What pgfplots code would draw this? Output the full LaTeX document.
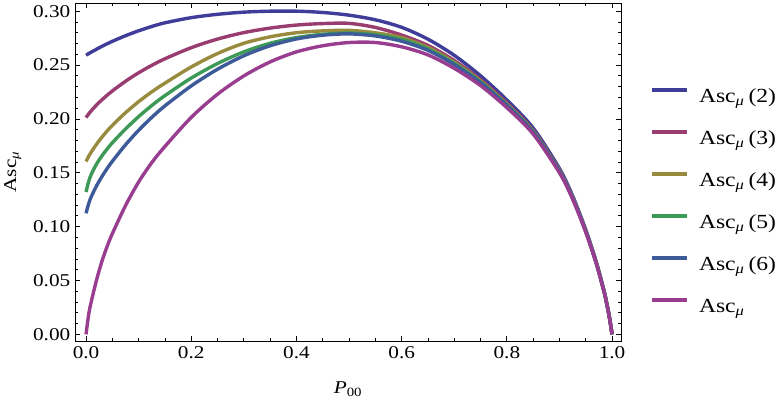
\documentclass[border=0pt]{standalone}
\usepackage{fontspec}
\setmainfont[FakeStretch=1.18]{Liberation Serif}
\usepackage{pgfplots}
\usepackage{pgfplotstable}
\pgfplotsset{compat=1.18}

% Mathematica default plot colours
\definecolor{cA}{rgb}{0.2472,0.24,0.6}
\definecolor{cB}{rgb}{0.6,0.24,0.4429}
\definecolor{cC}{rgb}{0.6,0.547,0.24}
\definecolor{cD}{rgb}{0.24,0.6,0.3369}
\definecolor{cE}{rgb}{0.24,0.3532,0.6}
\definecolor{cF}{rgb}{0.6,0.24,0.5633}

\pgfplotstableread{
P      a2      a3      a4      a5      a6      a
0      0.2592  0.2013  0.1605  0.1322  0.1124  0
0.005  0.2607  0.2047  0.1653  0.1420  0.1214  0.0185
0.01   0.2621  0.2077  0.1694  0.1487  0.1279  0.0305
0.02   0.2648  0.2130  0.1766  0.1582  0.1379  0.0505
0.03   0.2674  0.2177  0.1830  0.1656  0.1464  0.0675
0.04   0.2698  0.2220  0.1888  0.1721  0.1539  0.0815
0.05   0.2721  0.2260  0.1941  0.1779  0.1607  0.0935
0.075  0.2773  0.2350  0.2058  0.1907  0.1760  0.1195
0.1    0.2819  0.2429  0.2161  0.2022  0.1895  0.1415
0.125  0.2859  0.2498  0.2252  0.2125  0.2015  0.1595
0.15   0.2893  0.2559  0.2333  0.2217  0.2122  0.1745
0.2    0.2941  0.2662  0.2483  0.2380  0.2307  0.2015
0.25   0.2972  0.2742  0.2608  0.2515  0.2462  0.2230
0.3    0.2992  0.2802  0.2703  0.2623  0.2587  0.2400
0.35   0.3001  0.2844  0.2763  0.2703  0.2680  0.2530
0.4    0.3001  0.2872  0.2801  0.2756  0.2743  0.2623
0.45   0.2989  0.2886  0.2818  0.2786  0.2778  0.2680
0.5    0.2964  0.2888  0.2823  0.2798  0.2790  0.2710
0.55   0.2921  0.2850  0.2800  0.2782  0.2771  0.2710
0.6    0.2851  0.2779  0.2755  0.2739  0.2722  0.2670
0.65   0.2741  0.2683  0.2664  0.2650  0.2637  0.2595
0.7    0.2591  0.2543  0.2527  0.2516  0.2505  0.2470
0.75   0.2401  0.2365  0.2353  0.2345  0.2336  0.2310
0.8    0.2176  0.2148  0.2138  0.2132  0.2126  0.2105
0.85   0.1916  0.1894  0.1886  0.1881  0.1876  0.1860
0.9    0.1540  0.1524  0.1519  0.1515  0.1512  0.1500
0.925  0.1287  0.1274  0.1270  0.1267  0.1264  0.1255
0.95   0.0972  0.0962  0.0959  0.0957  0.0955  0.0948
0.97   0.0672  0.0666  0.0664  0.0662  0.0661  0.0656
0.985  0.0399  0.0395  0.0394  0.0393  0.0393  0.0390
0.99   0.0286  0.0284  0.0283  0.0282  0.0282  0.0280
0.995  0.0158  0.0157  0.0156  0.0156  0.0156  0.0155
1      0       0       0       0       0       0
}\asctable

\begin{document}
\begin{tikzpicture}
\path[use as bounding box] (-75pt,-58pt) rectangle (704pt,341pt);
\begin{axis}[
    scale only axis,
    width=546pt, height=338pt,
    xmin=-0.021, xmax=1.017,
    ymin=-0.0062, ymax=0.3077,
    xtick={0,0.2,0.4,0.6,0.8,1},
    ytick={0,0.05,0.1,0.15,0.2,0.25,0.3},
    minor x tick num=3,
    minor y tick num=4,
    tick align=inside,
    major tick length=5pt,
    minor tick length=3pt,
    axis line style={line width=0.8pt},
    every tick/.style={black, line width=0.8pt},
    xticklabel style={font=\fontsize{18}{20}\selectfont, inner sep=0pt, yshift=-5.5pt,
        /pgf/number format/.cd, fixed, fixed zerofill, precision=1, assume math mode=true},
    yticklabel style={font=\fontsize{18}{20}\selectfont, inner sep=0pt, xshift=-4.5pt,
        /pgf/number format/.cd, fixed, fixed zerofill, precision=2, assume math mode=true},
    xlabel={\textit{P}\textsubscript{00}},
    xlabel style={font=\fontsize{18}{20}\selectfont, at={(axis description cs:0.5,-0.142)}, anchor=center},
    ylabel={Asc\textsubscript{\textit{μ}}},
    ylabel style={font=\fontsize{18}{20}\selectfont, at={(axis description cs:-0.114,0.5)}, anchor=center},
    legend style={draw=none, fill=none, inner sep=0pt, outer sep=0pt,
        at={(axis description cs:1,1)}, anchor=north west,
        xshift=29pt, yshift=-84.2pt,
        font=\fontsize{20}{24}\selectfont,
        row sep=22pt, column sep=10pt,
        nodes={inner sep=0pt, text height=15pt, text depth=5pt}},
    legend cell align=left,
    legend image code/.code={\draw[#1, line width=4pt] (0pt,7pt) -- (35pt,7pt);},
]
\addplot[cA, line width=3.4pt, smooth] table[x=P, y=a2] {\asctable};
\addplot[cB, line width=3.4pt, smooth] table[x=P, y=a3] {\asctable};
\addplot[cC, line width=3.4pt, smooth] table[x=P, y=a4] {\asctable};
\addplot[cD, line width=3.4pt, smooth] table[x=P, y=a5] {\asctable};
\addplot[cE, line width=3.4pt, smooth] table[x=P, y=a6] {\asctable};
\addplot[cF, line width=3.4pt, smooth] table[x=P, y=a] {\asctable};
\legend{Asc\textsubscript{\textit{μ}}\hspace{4pt}(2), Asc\textsubscript{\textit{μ}}\hspace{4pt}(3),
        Asc\textsubscript{\textit{μ}}\hspace{4pt}(4), Asc\textsubscript{\textit{μ}}\hspace{4pt}(5),
        Asc\textsubscript{\textit{μ}}\hspace{4pt}(6), Asc\textsubscript{\textit{μ}}}
\end{axis}
\end{tikzpicture}
\end{document}
